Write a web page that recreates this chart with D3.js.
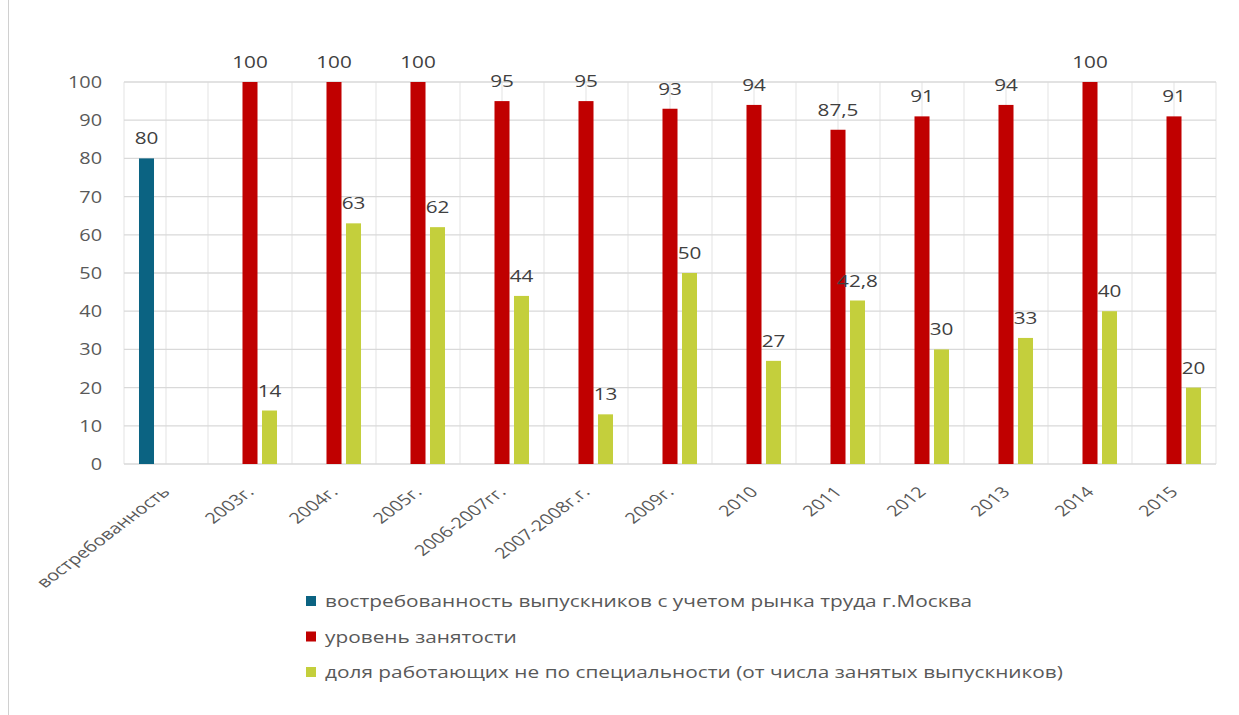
<!DOCTYPE html>
<html><head><meta charset="utf-8">
<script src="https://cdn.jsdelivr.net/npm/d3@7"></script>
<style>body{margin:0;background:#fff}svg{display:block}</style>
</head><body>
<script>
const categories = ["востребованность","2003г.","2004г.","2005г.","2006-2007гг.","2007-2008г.г.","2009г.","2010","2011","2012","2013","2014","2015"];
const seriesNames = ["востребованность выпускников с учетом рынка труда г.Москва","уровень занятости","доля работающих не по специальности (от числа занятых выпускников)"];
const demandValues = [80,null,null,null,null,null,null,null,null,null,null,null,null];
const employmentValues = [null,100,100,100,95,95,93,94,87.5,91,94,100,91];
const offSpecialtyValues = [null,14,63,62,44,13,50,27,42.8,30,33,40,20];
const yTicks = [0,10,20,30,40,50,60,70,80,90,100];
const colors = ["#0b6382","#c00000","#c4cf3c"];

const W=1239,H=715;
const svg=d3.select("body").append("svg").attr("width",W).attr("height",H);
svg.append("rect").attr("width",W).attr("height",H).attr("fill","#fff");
svg.append("line").attr("x1",8.5).attr("x2",8.5).attr("y1",0).attr("y2",H).attr("stroke","#d0d0d0");

const font="'Open Sans', sans-serif";
const x=d3.scaleBand().domain(categories).range([124,1216]).padding(0);
const y=d3.scaleLinear().domain([0,100]).range([464,82]);
const x1=d3.scaleBand().domain([0,1,2]).range([-29.25,29.25]).paddingInner(0.23).paddingOuter(0.115);

// vertical grid (half-category)
const halfTicks=d3.range(0,categories.length*2+1).map(i=>x.range()[0]+i*x.bandwidth()/2);
svg.append("g").selectAll("line").data(halfTicks).join("line")
  .attr("x1",d=>d).attr("x2",d=>d).attr("y1",y(100)).attr("y2",y(0))
  .attr("stroke","#e8e8e8").attr("stroke-width",1.2);
// horizontal grid
svg.append("g").selectAll("line").data(yTicks).join("line")
  .attr("x1",124).attr("x2",1216).attr("y1",d=>y(d)).attr("y2",d=>y(d))
  .attr("stroke","#d9d9d9").attr("stroke-width",1.3);

// y axis labels
const yAxis=d3.axisLeft(y).tickValues(yTicks).tickSize(0).tickPadding(22);
const yg=svg.append("g").attr("transform","translate(124,0)").call(yAxis);
yg.select(".domain").remove();
yg.selectAll("text").attr("font-family",font).attr("font-size",17).attr("fill","#595959")
  .attr("x",0).attr("transform","translate(-22,0) scale(1.17,1)");

const series=[demandValues,employmentValues,offSpecialtyValues];
const fmt=v=>String(v).replace(".",",");
series.forEach((vals,si)=>{
  const data=categories.map((c,i)=>({c,v:vals[i]})).filter(d=>d.v!=null);
  const g=svg.append("g");
  g.selectAll("rect").data(data).join("rect")
    .attr("x",d=>x(d.c)+x.bandwidth()/2+x1(si))
    .attr("width",x1.bandwidth())
    .attr("y",d=>y(d.v)).attr("height",d=>y(0)-y(d.v))
    .attr("fill",colors[si]);
  g.selectAll("text").data(data).join("text")
    .attr("transform",d=>`translate(${x(d.c)+x.bandwidth()/2+x1(si)+x1.bandwidth()/2},${y(d.v)-14}) scale(1.22,1)`)
    .attr("text-anchor","middle").attr("font-family",font).attr("font-size",17).attr("fill","#404040")
    .text(d=>fmt(d.v));
});

// x axis labels
const xAxis=d3.axisBottom(x).tickSize(0).tickPadding(0);
const xg=svg.append("g").attr("transform",`translate(0,${y(0)})`).call(xAxis);
xg.select(".domain").remove();
xg.selectAll("text").attr("font-family",font).attr("font-size",15).attr("fill","#595959")
  .attr("text-anchor","end").attr("dy",0).attr("y",0)
  .attr("transform","translate(5,29) scale(1.32,1) rotate(-45)");

// legend
const lg=svg.append("g");
seriesNames.forEach((n,i)=>{
  const yy=601+i*35.5;
  lg.append("rect").attr("x",306).attr("y",yy-5).attr("width",10).attr("height",10).attr("fill",colors[i]);
  lg.append("text").attr("transform",`translate(325,${yy+6}) scale(1.225,1)`).attr("font-family",font).attr("font-size",17).attr("fill","#595959").text(n);
});
</script>
</body></html>
